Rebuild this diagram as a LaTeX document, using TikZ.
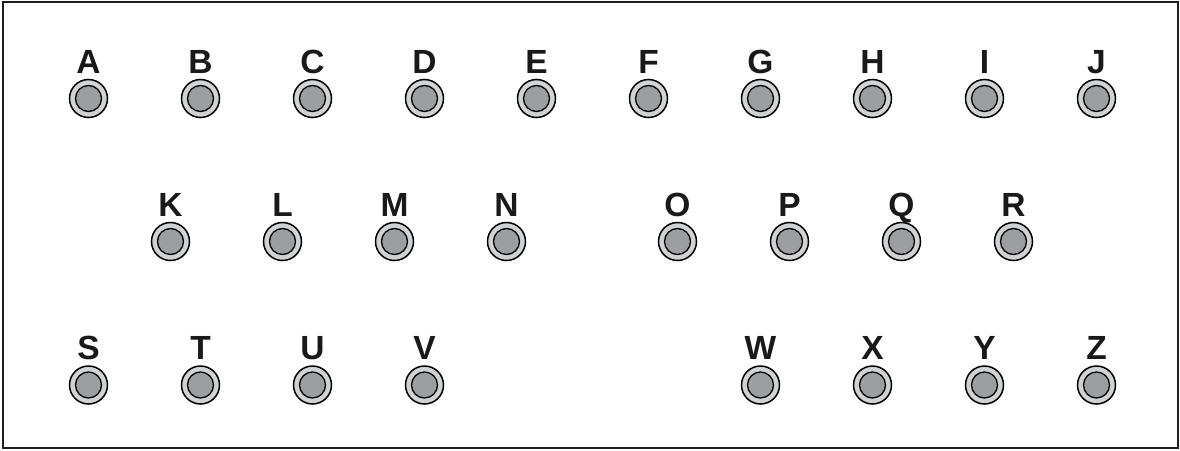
\documentclass[tikz,border=0pt]{standalone}
\usepackage{fontspec}
\setmainfont{Liberation Sans}
\begin{document}
\begin{tikzpicture}[x=1pt,y=-1pt,
  jack/.style={circle,draw=black,line width=1.5pt,fill=ringgray,minimum size=38pt,inner sep=0pt,
    path picture={\fill[draw=black,line width=1.3pt,fill=coregray] (path picture bounding box.center) circle (13pt);}},
  lbl/.style={font=\fontsize{33.5}{33.5}\selectfont\bfseries,anchor=base,inner sep=0pt,text=black!90}]
\definecolor{ringgray}{HTML}{D1D2D3}
\definecolor{coregray}{HTML}{9D9E9F}
\definecolor{frame}{HTML}{231F20}
\useasboundingbox (0,0) rectangle (1180,450);
\node[draw=frame,line width=2pt,minimum width=1175pt,minimum height=446pt,inner sep=0pt] (frm) at (590.5,225) {};
\foreach \l/\x/\y in {A/88.5/98.5,B/200.5/98.5,C/312.5/98.5,D/424.5/98.5,E/536.5/98.5,F/648.5/98.5,G/760.5/98.5,H/872.5/98.5,I/984.5/98.5,J/1096.5/98.5,
  K/170.5/241.5,L/282.5/241.5,M/394.5/241.5,N/506.5/241.5,O/677.5/241.5,P/789.5/241.5,Q/901.5/241.5,R/1013.5/241.5,
  S/88.5/385,T/200.5/385,U/312.5/385,V/424.5/385,W/760.5/385,X/872.5/385,Y/984.5/385,Z/1096.5/385}{
  \node[jack] (j\l) at (\x,\y) {};
  \node[lbl] (t\l) at (\x,\y-25.5) {\l};
}
\end{tikzpicture}
\end{document}
